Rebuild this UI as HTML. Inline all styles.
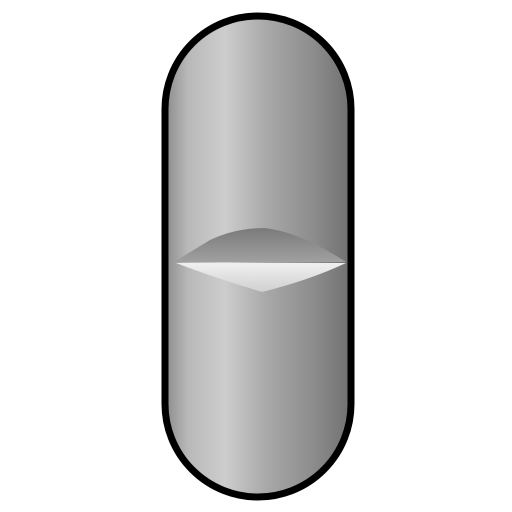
<!DOCTYPE html>
<html><head><meta charset="utf-8"><style>html,body{margin:0;padding:0;background:#fff;width:512px;height:512px;overflow:hidden}</style></head>
<body>
<svg width="512" height="512" viewBox="0 0 512 512">
<defs>
<linearGradient id="body" x1="0" y1="0" x2="1" y2="0">
<stop offset="0" stop-color="#8a8a8a"/>
<stop offset="0.12" stop-color="#b8b8b8"/>
<stop offset="0.32" stop-color="#cdcdcd"/>
<stop offset="0.55" stop-color="#a8a8a8"/>
<stop offset="0.8" stop-color="#8c8c8c"/>
<stop offset="1" stop-color="#707070"/>
</linearGradient>
<linearGradient id="top" x1="0" y1="0" x2="0" y2="1">
<stop offset="0" stop-color="#7a7a7a"/>
<stop offset="1" stop-color="#a0a0a0"/>
</linearGradient>
<linearGradient id="bot" x1="0" y1="0" x2="0" y2="1">
<stop offset="0" stop-color="#f0f0f0"/>
<stop offset="1" stop-color="#d0d0d0"/>
</linearGradient>
</defs>
<rect x="165" y="16" width="186" height="481" rx="93" ry="93" fill="url(#body)" stroke="#000" stroke-width="7"/>
<path d="M174 262 L210 240 Q235 228 265 228 Q300 232 346 262 Z" fill="url(#top)"/>
<path d="M176 263 L346 263 Q310 280 262 292 Q215 278 176 263 Z" fill="url(#bot)"/>
</svg>
</body></html>
